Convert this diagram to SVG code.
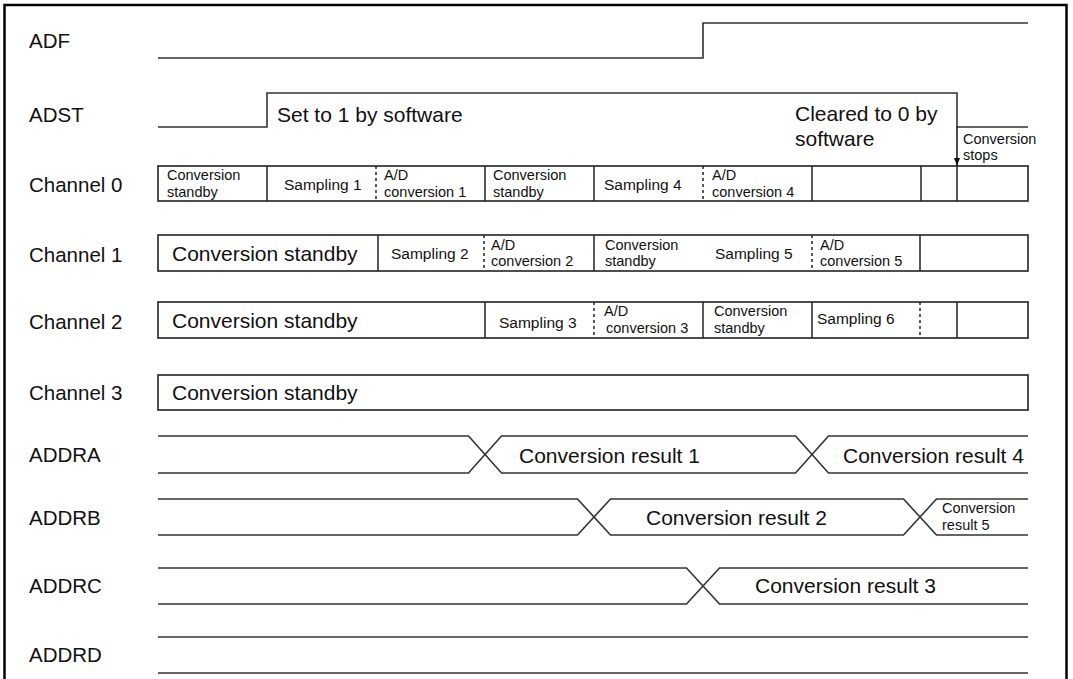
<svg xmlns="http://www.w3.org/2000/svg" width="1073" height="679" viewBox="0 0 1073 679">
<defs>
<style>
text { font-family: "Liberation Sans", Arial, sans-serif; fill: #111; }
.lbl { font-size: 20.5px; }
.big { font-size: 21px; }
.sm { font-size: 15.5px; }
.tw { font-size: 14.5px; }
.sig { fill: none; stroke: #333; stroke-width: 1.6; }
.box { fill: none; stroke: #222; stroke-width: 1.6; }
.dv { stroke: #222; stroke-width: 1.5; }
.dash { stroke: #222; stroke-width: 1.5; stroke-dasharray: 3 3; }
.frame { fill: none; stroke: #000; stroke-width: 2.5; }
</style>
<marker id="arr" markerWidth="8" markerHeight="6" refX="8" refY="3" orient="auto" markerUnits="userSpaceOnUse">
<path d="M0,0 L8,3 L0,6 z" fill="#111"/>
</marker>
</defs>
<rect width="1073" height="679" fill="#fff"/>
<rect class="frame" x="4.5" y="5" width="1062" height="700"/>

<g id="adf">
<text class="lbl" x="29" y="48">ADF</text>
<path class="sig" d="M158,58 H703 V23 H1028"/>
</g>

<g id="adst">
<text class="lbl" x="29" y="122">ADST</text>
<path class="sig" d="M158,127 H267 V93 H957 V127 H1028"/>
<text class="big" x="277" y="122">Set to 1 by software</text>
<text class="big" x="795" y="121">Cleared to 0 by</text>
<text class="big" x="795" y="146">software</text>
<text class="tw" x="963" y="144">Conversion</text>
<text class="tw" x="963" y="160.2">stops</text>
</g>

<g id="channel0">
<text class="lbl" x="29" y="192">Channel 0</text>
<rect class="box" x="158" y="166" width="870" height="35"/>
<line class="dv" x1="267" y1="166" x2="267" y2="201"/>
<line class="dash" x1="376" y1="166" x2="376" y2="201"/>
<line class="dv" x1="485" y1="166" x2="485" y2="201"/>
<line class="dv" x1="594" y1="166" x2="594" y2="201"/>
<line class="dash" x1="703" y1="166" x2="703" y2="201"/>
<line class="dv" x1="812" y1="166" x2="812" y2="201"/>
<line class="dv" x1="921" y1="166" x2="921" y2="201"/>
<line class="dv" x1="957" y1="166" x2="957" y2="201"/>
<text class="tw" x="167" y="180.4">Conversion</text>
<text class="tw" x="167" y="196.6">standby</text>
<text class="sm" x="284" y="189.5">Sampling 1</text>
<text class="tw" x="384" y="180.4">A/D</text>
<text class="tw" x="384" y="196.6">conversion 1</text>
<text class="tw" x="493" y="180.4">Conversion</text>
<text class="tw" x="493" y="196.6">standby</text>
<text class="sm" x="604" y="189.5">Sampling 4</text>
<text class="tw" x="712" y="180.4">A/D</text>
<text class="tw" x="712" y="196.6">conversion 4</text>
</g>

<g id="channel1">
<text class="lbl" x="29" y="262">Channel 1</text>
<rect class="box" x="158" y="235" width="870" height="36"/>
<line class="dv" x1="378" y1="235" x2="378" y2="271"/>
<line class="dash" x1="484" y1="235" x2="484" y2="271"/>
<line class="dv" x1="594" y1="235" x2="594" y2="271"/>
<line class="dash" x1="812" y1="235" x2="812" y2="271"/>
<line class="dv" x1="920" y1="235" x2="920" y2="271"/>
<text class="big" x="172" y="261">Conversion standby</text>
<text class="sm" x="391" y="259">Sampling 2</text>
<text class="tw" x="491" y="249.6">A/D</text>
<text class="tw" x="491" y="265.8">conversion 2</text>
<text class="tw" x="605" y="249.6">Conversion</text>
<text class="tw" x="605" y="265.8">standby</text>
<text class="sm" x="715" y="259">Sampling 5</text>
<text class="tw" x="820" y="249.6">A/D</text>
<text class="tw" x="820" y="265.8">conversion 5</text>
</g>

<g id="channel2">
<text class="lbl" x="29" y="329">Channel 2</text>
<rect class="box" x="158" y="302" width="870" height="36"/>
<line class="dv" x1="485" y1="302" x2="485" y2="338"/>
<line class="dash" x1="594" y1="302" x2="594" y2="338"/>
<line class="dv" x1="703" y1="302" x2="703" y2="338"/>
<line class="dv" x1="812" y1="302" x2="812" y2="338"/>
<line class="dash" x1="920" y1="302" x2="920" y2="338"/>
<line class="dv" x1="957" y1="302" x2="957" y2="338"/>
<text class="big" x="172" y="328">Conversion standby</text>
<text class="sm" x="499" y="328">Sampling 3</text>
<text class="tw" x="604" y="316.4">A/D</text>
<text class="tw" x="606" y="332.6">conversion 3</text>
<text class="tw" x="714" y="316.4">Conversion</text>
<text class="tw" x="714" y="332.6">standby</text>
<text class="sm" x="817" y="324">Sampling 6</text>
</g>

<g id="channel3">
<text class="lbl" x="29" y="400">Channel 3</text>
<rect class="box" x="158" y="375" width="870" height="35"/>
<text class="big" x="172" y="400">Conversion standby</text>
</g>

<g id="addra">
<text class="lbl" x="29" y="462">ADDRA</text>
<path class="sig" d="M158,436 H468.5 L501.5,473 H795.5 L828.5,436 H1028"/>
<path class="sig" d="M158,473 H468.5 L501.5,436 H795.5 L828.5,473 H1028"/>
<text class="big" x="519" y="463">Conversion result 1</text>
<text class="big" x="843" y="463">Conversion result 4</text>
</g>

<g id="addrb">
<text class="lbl" x="29" y="525">ADDRB</text>
<path class="sig" d="M158,499 H577.5 L610.5,535 H903.5 L936.5,499 H1028"/>
<path class="sig" d="M158,535 H577.5 L610.5,499 H903.5 L936.5,535 H1028"/>
<text class="big" x="646" y="525">Conversion result 2</text>
<text class="tw" x="942" y="513.4">Conversion</text>
<text class="tw" x="942" y="529.6">result 5</text>
</g>

<g id="addrc">
<text class="lbl" x="29" y="593">ADDRC</text>
<path class="sig" d="M158,568 H686.5 L719.5,604 H1028"/>
<path class="sig" d="M158,604 H686.5 L719.5,568 H1028"/>
<text class="big" x="755" y="593">Conversion result 3</text>
</g>

<g id="addrd">
<text class="lbl" x="29" y="662">ADDRD</text>
<line class="sig" x1="158" y1="637" x2="1028" y2="637"/>
<line class="sig" x1="158" y1="673" x2="1028" y2="673"/>
</g>

<g id="connectors">
<line x1="957" y1="127" x2="957" y2="166" stroke="#111" stroke-width="1.5" marker-end="url(#arr)"/>
</g>
</svg>
